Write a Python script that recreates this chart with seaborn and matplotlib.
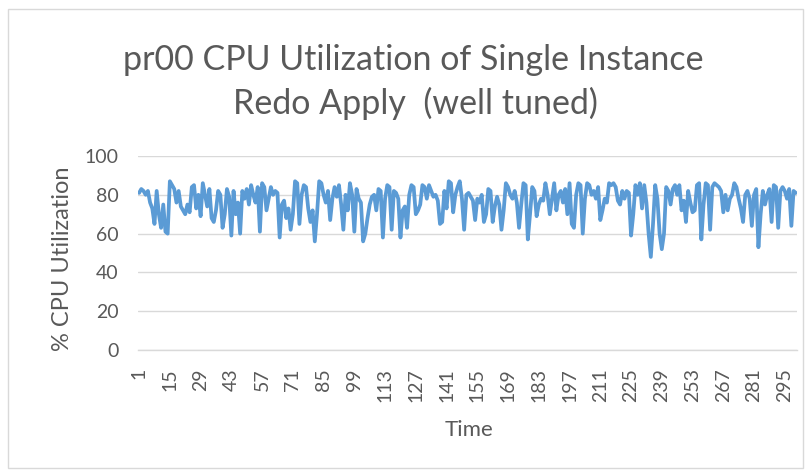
import numpy as np
import pandas as pd
import matplotlib
matplotlib.use("Agg")
import matplotlib.pyplot as plt
import seaborn as sns
from matplotlib.patches import Rectangle

# CPU utilization samples (300 time steps)
cpu_util = [
    81, 83, 82, 80, 82, 76, 73, 65, 82, 70, 63, 75, 61, 60, 87, 85, 83, 76, 82, 74,
    72, 70, 75, 71, 84, 85, 73, 80, 69, 86, 80, 74, 83, 68, 66, 72, 82, 80, 63, 70,
    83, 79, 59, 82, 70, 76, 60, 82, 78, 83, 75, 85, 80, 76, 84, 61, 86, 84, 72, 78,
    84, 80, 82, 81, 58, 75, 77, 68, 73, 62, 70, 87, 86, 65, 80, 85, 84, 73, 66, 72,
    56, 70, 87, 86, 80, 76, 82, 67, 78, 84, 79, 85, 75, 62, 80, 72, 86, 80, 61, 83,
    78, 76, 56, 60, 68, 75, 79, 80, 72, 83, 82, 58, 78, 85, 84, 62, 82, 81, 78, 58,
    72, 74, 63, 80, 85, 84, 70, 72, 75, 85, 84, 78, 85, 82, 79, 80, 77, 65, 66, 82,
    73, 87, 86, 71, 80, 84, 87, 78, 62, 80, 81, 79, 77, 67, 78, 76, 80, 66, 70, 83,
    82, 66, 74, 79, 75, 62, 72, 86, 84, 80, 78, 82, 76, 63, 75, 86, 85, 57, 70, 84,
    82, 69, 75, 78, 77, 86, 80, 70, 78, 86, 72, 80, 82, 76, 83, 70, 86, 65, 63, 80,
    86, 85, 60, 78, 86, 85, 80, 82, 78, 84, 67, 72, 78, 76, 86, 85, 86, 84, 77, 75,
    82, 78, 82, 81, 59, 70, 85, 80, 86, 73, 85, 76, 60, 48, 65, 85, 78, 60, 52, 60,
    84, 82, 75, 83, 85, 80, 85, 72, 77, 66, 82, 76, 71, 72, 85, 86, 57, 75, 86, 85,
    62, 84, 86, 85, 84, 82, 71, 80, 72, 78, 80, 86, 84, 78, 73, 66, 80, 82, 78, 64,
    80, 83, 53, 70, 82, 75, 80, 83, 66, 85, 84, 63, 82, 84, 82, 78, 83, 64, 82, 81,
]
time_steps = list(range(1, len(cpu_util) + 1))
xtick_values = list(range(1, 300, 14))
ytick_values = [0, 20, 40, 60, 80, 100]

df = pd.DataFrame({"Time": time_steps, "cpu": cpu_util})

sns.set_style("white")
plt.rcParams["font.family"] = ["Lato", "DejaVu Sans"]

text_grey = "#595959"
grid_grey = "#d9d9d9"

fig = plt.figure(figsize=(8.09, 4.70), dpi=100)
ax = fig.add_axes([0.1706, 0.2553, 0.8144, 0.4127])

sns.lineplot(data=df, x="Time", y="cpu", color="#5B9BD5", linewidth=2.7,
             solid_joinstyle="round", ax=ax, zorder=3)

ax.set_xlim(0.5, len(cpu_util) + 0.5)
ax.set_ylim(0, 100)
ax.set_yticks(ytick_values)
ax.set_xticks(xtick_values)
ax.set_xticklabels([str(v) for v in xtick_values], rotation=90)
ax.yaxis.grid(True, color=grid_grey, linewidth=1)
ax.xaxis.grid(False)
for side in ["left", "right", "top"]:
    ax.spines[side].set_visible(False)
ax.spines["bottom"].set_color(grid_grey)
ax.spines["bottom"].set_linewidth(1)
ax.tick_params(axis="both", length=0, labelsize=14, colors=text_grey)
ax.tick_params(axis="x", pad=13)
ax.tick_params(axis="y", pad=14)

ax.set_xlabel("Time", fontsize=16, color=text_grey)
ax.xaxis.set_label_coords(0.502, -0.36)
ax.set_ylabel("% CPU Utilization", fontsize=17, color=text_grey)
ax.yaxis.set_label_coords(-0.098, 0.47)

fig.text(0.511, 0.872, "pr00 CPU Utilization of Single Instance", ha="center",
         va="center", fontsize=24.5, color=text_grey)
fig.text(0.514, 0.780, "Redo Apply  (well tuned)", ha="center",
         va="center", fontsize=24.5, color=text_grey)

fig.patches.append(Rectangle((0.010, 0.005), 0.982, 0.975, transform=fig.transFigure,
                             fill=False, edgecolor=grid_grey, linewidth=1))

fig.savefig("out.png", dpi=100)
